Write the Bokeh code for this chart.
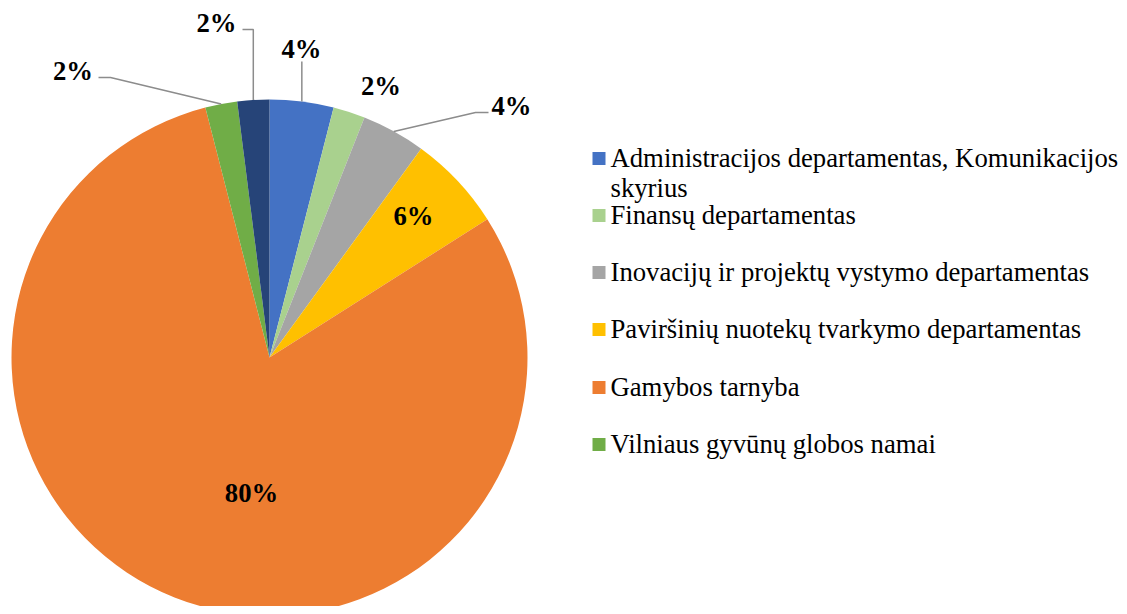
import numpy as np
from bokeh.plotting import figure
from bokeh.models import Range1d
from bokeh.core.properties import value
from bokeh.embed import file_html
from bokeh.resources import INLINE

# ---- data ----
categories = [
    "Administracijos departamentas, Komunikacijos skyrius",
    "Finansų departamentas",
    "Inovacijų ir projektų vystymo departamentas",
    "Paviršinių nuotekų tvarkymo departamentas",
    "Gamybos tarnyba",
    "Vilniaus gyvūnų globos namai",
    "Kita",
]
values = [2, 1, 2, 3, 40, 1, 1]
colors = ["#4472C4", "#A9D18E", "#A5A5A5", "#FFC000", "#ED7D31", "#70AD47", "#264478"]
legend_lines = [
    ["Administracijos departamentas, Komunikacijos", "skyrius"],
    ["Finansų departamentas"],
    ["Inovacijų ir projektų vystymo departamentas"],
    ["Paviršinių nuotekų tvarkymo departamentas"],
    ["Gamybos tarnyba"],
    ["Vilniaus gyvūnų globos namai"],
]

# ---- layout (screen pixels, relative to figure origin) ----
W, H = 1119, 606
def sx(x): return x
def sy(y): return H - y

CX, CY, R = 269, 357, 258
cx, cy = sx(CX), sy(CY)

FONT = value("Liberation Serif")
FSIZE = "26.7px"

# label offsets relative to pie centre (screen px)
label_off = [(32, -309), (111.5, -272), (242, -252), (144, -142), (-18, 135), (-196.5, -287), (-53, -335)]
# leader elbow / end points (screen px); None => no leader
leaders = [
    [("edge_x", 61)],
    None,
    [(475, 112), (488, 112)],
    None,
    None,
    [(110, 77), (98, 77)],
    [("edge_x", 29), (242, 29)],
]

vals = np.array(values, dtype=float)
frac = vals / vals.sum()
cum = np.cumsum(frac)
start = np.pi / 2 - 2 * np.pi * (cum - frac)
end = np.pi / 2 - 2 * np.pi * cum
mid = (start + end) / 2

p = figure(width=W, height=H, x_range=Range1d(0, W), y_range=Range1d(0, H),
           output_backend="svg", toolbar_location=None, min_border=0,
           x_axis_type=None, y_axis_type=None)
p.grid.visible = False
p.outline_line_color = None
p.background_fill_color = "white"
p.border_fill_color = "white"

p.wedge(x=cx, y=cy, radius=R, start_angle=list(start), end_angle=list(end),
        direction="clock", fill_color=colors, line_color=None)

# leader lines
xs, ys = [], []
for i, ld in enumerate(leaders):
    if ld is None:
        continue
    ex = cx + R * np.cos(mid[i])
    ey = cy + R * np.sin(mid[i])
    lx, ly = [ex], [ey]
    for (px_, py_) in ld:
        X = ex if px_ == "edge_x" else sx(px_)
        lx.append(X)
        ly.append(sy(py_))
    xs.append(lx)
    ys.append(ly)
p.multi_line(xs=xs, ys=ys, line_color="#8C8C8C", line_width=1.5)

# percentage labels
pct = [f"{int(round(f * 100))}%" for f in frac]
lx = [sx(CX + dx) for dx, dy in label_off]
ly = [sy(CY + dy) for dx, dy in label_off]
p.text(x=lx, y=ly, text=pct, text_font=FONT, text_font_style="bold",
       text_font_size=FSIZE, text_align="center", text_baseline="middle", text_color="black")

# legend
leg_y = [158, 215, 272, 329, 387, 444]
p.rect(x=[sx(598.5)] * len(leg_y), y=[sy(v) for v in leg_y], width=13, height=13,
       fill_color=colors[:len(leg_y)], line_color=None)
tx, ty, tt = [], [], []
for yv, lines in zip(leg_y, legend_lines):
    for k, line in enumerate(lines):
        tx.append(sx(610))
        ty.append(sy(yv - 1 + k * 30))
        tt.append(line)
p.text(x=tx, y=ty, text=tt, text_font=FONT, text_font_size=FSIZE,
       text_align="left", text_baseline="middle", text_color="black")

open("out.html", "w").write(file_html(p, INLINE))
